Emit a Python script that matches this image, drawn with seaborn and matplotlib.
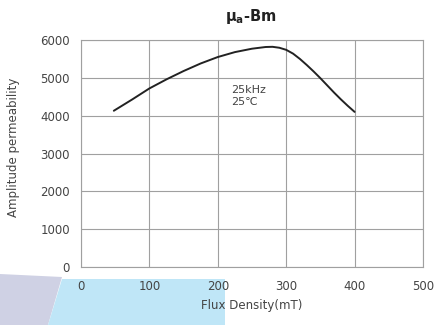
import matplotlib
matplotlib.use("Agg")
import matplotlib.pyplot as plt
from matplotlib.patches import Polygon
import seaborn as sns
import pandas as pd

# data
flux_mT = [48, 75, 100, 125, 150, 175, 200, 225, 250, 270, 280, 290, 300, 310, 320, 330, 340, 350, 360, 370, 380, 390, 400]
permeability = [4130, 4430, 4720, 4960, 5180, 5380, 5550, 5680, 5770, 5815, 5820, 5795, 5740, 5640, 5500, 5340, 5170, 4990, 4800, 4610, 4430, 4260, 4100]
x_ticks = [0, 100, 200, 300, 400, 500]
y_ticks = [0, 1000, 2000, 3000, 4000, 5000, 6000]
title = "μ$_\\mathregular{a}$-Bm"
xlabel = "Flux Density(mT)"
ylabel = "Amplitude permeability"
note = "25kHz\n25℃"

sns.set_theme(style="white")
plt.rcParams['font.family'] = ['DejaVu Sans']

fig = plt.figure(figsize=(4.36, 3.25), dpi=100)
W, H = 436, 325

# decorative background shapes at the bottom-left
def fp(pts):
    return [(x / W, 1 - y / H) for x, y in pts]
fig.patches.append(Polygon(fp([(0, 274), (62, 277), (48, 325), (0, 325)]),
                           closed=True, transform=fig.transFigure,
                           facecolor="#cfd1e4", edgecolor="none", zorder=-2))
fig.patches.append(Polygon(fp([(62, 279), (225, 279), (225, 325), (48, 325)]),
                           closed=True, transform=fig.transFigure,
                           facecolor="#bfe6f7", edgecolor="none", zorder=-2))

ax = fig.add_axes([81 / W, 1 - 267 / H, (423 - 81) / W, (267 - 40) / H])
ax.set_zorder(2)
ax.set_facecolor("none")

df = pd.DataFrame({"B": flux_mT, "mu": permeability})
sns.lineplot(data=df, x="B", y="mu", ax=ax, color="#222222", linewidth=1.4)

ax.set_xlim(0, 500)
ax.set_ylim(0, 6000)
ax.set_xticks(x_ticks)
ax.set_yticks(y_ticks)
ax.set_xticklabels([str(v) for v in x_ticks])
ax.set_yticklabels([str(v) for v in y_ticks])
ax.grid(True, color="#a0a0a0", linewidth=0.8)
for s in ax.spines.values():
    s.set_color("#a0a0a0")
    s.set_linewidth(0.8)
ax.tick_params(axis="x", length=0, pad=9, labelsize=8.5, labelcolor="#444444")
ax.tick_params(axis="y", length=0, pad=8, labelsize=8.5, labelcolor="#444444")
ax.set_xlabel("")
ax.set_ylabel("")

ax.text(220, 4530, note, fontsize=8, color="#444444", va="center", ha="left", linespacing=1.25)

fig.text(251 / W, 1 - 17 / H, title, ha="center", va="center", fontsize=10.5, fontweight="bold", color="#222222", zorder=3)
fig.text(252 / W, 1 - 306 / H, xlabel, ha="center", va="center", fontsize=8.5, color="#444444", zorder=3)
fig.text(14 / W, 1 - 147 / H, ylabel, ha="center", va="center", rotation=90, fontsize=8.5, color="#444444", zorder=3)

fig.savefig("out.png", dpi=100)
